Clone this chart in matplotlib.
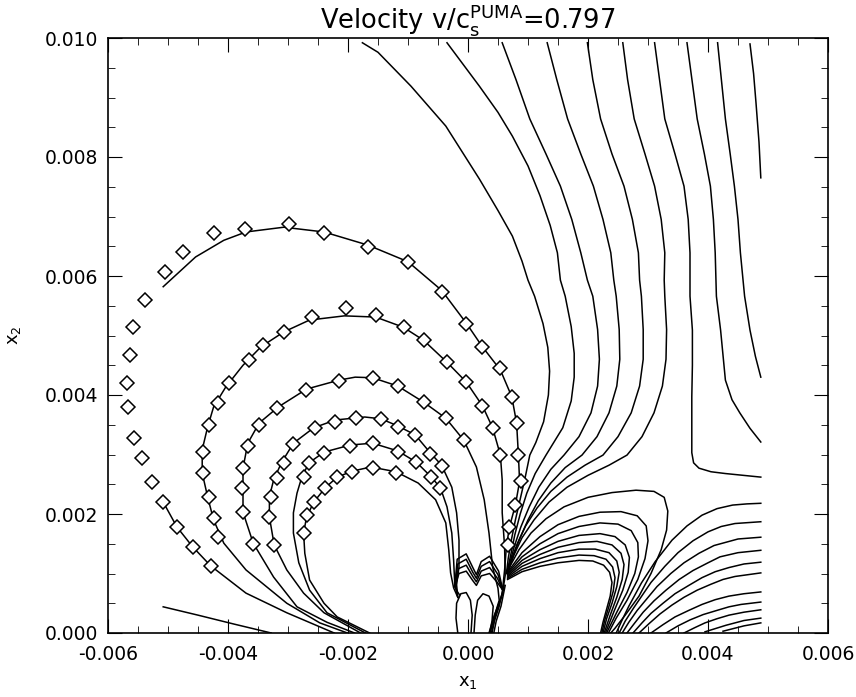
import numpy as np
import matplotlib.pyplot as plt
from matplotlib.ticker import MultipleLocator, FormatStrFormatter

S = 1e-3  # all values below are in units of 0.001

# ---- left family of contour lines (x1, x2) ----
arc1_top = [(-5.08, 5.82), (-4.54, 6.32), (-4.07, 6.60), (-3.70, 6.74), (-3.07, 6.82),
            (-2.40, 6.74), (-1.67, 6.52), (-1.00, 6.24), (-0.44, 5.76), (-0.03, 5.21),
            (0.24, 4.81), (0.54, 4.42), (0.73, 3.97), (0.81, 3.53), (0.84, 2.99),
            (0.86, 2.55), (0.79, 2.15), (0.69, 1.78), (0.64, 1.45), (0.61, 1.06),
            (0.57, 0.67), (0.47, 0.35), (0.39, 0.0)]
arc1_low = [(-5.08, 2.20), (-4.85, 1.78), (-4.59, 1.45), (-4.29, 1.13), (-3.70, 0.67),
            (-3.02, 0.34), (-2.23, 0.0)]
arc2 = [(-2.01, 0.0), (-2.47, 0.17), (-3.02, 0.50), (-3.70, 1.06), (-4.07, 1.51),
        (-4.24, 1.90), (-4.34, 2.29), (-4.43, 2.69), (-4.43, 3.08), (-4.34, 3.46),
        (-4.24, 3.80), (-4.04, 4.13), (-3.75, 4.50), (-3.45, 4.81), (-3.07, 5.06),
        (-2.64, 5.26), (-2.06, 5.33), (-1.54, 5.31), (-1.08, 5.14), (-0.74, 4.92),
        (-0.35, 4.55), (-0.03, 4.22), (0.24, 3.82), (0.41, 3.45), (0.54, 2.99),
        (0.57, 2.57), (0.57, 2.02), (0.61, 1.45), (0.62, 0.97), (0.57, 0.64),
        (0.44, 0.30), (0.35, 0.0)]
arc3 = [(-1.89, 0.0), (-2.35, 0.18), (-2.85, 0.44), (-3.24, 0.94), (-3.58, 1.51),
        (-3.75, 2.03), (-3.75, 2.44), (-3.75, 2.77), (-3.67, 3.19), (-3.48, 3.53),
        (-3.16, 3.80), (-2.69, 4.10), (-2.15, 4.25), (-1.88, 4.30), (-1.59, 4.29),
        (-1.17, 4.15), (-0.74, 3.88), (-0.37, 3.61), (-0.07, 3.24), (0.14, 2.79),
        (0.27, 2.24), (0.35, 1.68), (0.41, 1.11), (0.50, 0.75), (0.52, 0.55),
        (0.43, 0.25), (0.37, 0.0)]
arc4 = [(-1.79, 0.0), (-2.40, 0.34), (-2.74, 0.67), (-3.02, 1.06), (-3.23, 1.48),
        (-3.31, 1.95), (-3.31, 2.29), (-3.24, 2.57), (-3.11, 2.86), (-2.91, 3.19),
        (-2.57, 3.45), (-2.21, 3.58), (-1.72, 3.63), (-1.45, 3.60), (-1.17, 3.48),
        (-0.88, 3.33), (-0.63, 3.03), (-0.44, 2.82), (-0.27, 2.45), (-0.19, 2.02),
        (-0.15, 1.56), (-0.15, 1.11), (-0.19, 0.81), (-0.17, 0.60)]
arc5 = [(-1.71, 0.0), (-2.35, 0.34), (-2.64, 0.72), (-2.82, 1.18), (-2.91, 1.68),
        (-2.91, 2.02), (-2.85, 2.35), (-2.77, 2.62), (-2.65, 2.86), (-2.40, 3.04),
        (-1.96, 3.16), (-1.59, 3.19), (-1.17, 3.06), (-0.86, 2.87), (-0.61, 2.62),
        (-0.46, 2.44), (-0.35, 2.12), (-0.27, 1.68), (-0.24, 1.23), (-0.22, 0.81),
        (-0.17, 0.60)]
arc6 = [(-1.64, 0.0), (-2.18, 0.27), (-2.40, 0.50), (-2.64, 0.89), (-2.72, 1.34),
        (-2.74, 1.68), (-2.69, 1.95), (-2.57, 2.20), (-2.38, 2.44), (-2.18, 2.62),
        (-1.93, 2.72), (-1.62, 2.79), (-1.20, 2.71), (-0.83, 2.52), (-0.54, 2.24),
        (-0.37, 1.85), (-0.32, 1.39), (-0.29, 1.01), (-0.24, 0.76), (-0.17, 0.60)]
short_line = [(-5.08, 0.44), (-4.50, 0.30), (-3.90, 0.15), (-3.28, 0.0)]

# ---- lines running up to the top edge ----
r0 = [(-1.76, 9.92), (-1.50, 9.76), (-0.95, 9.19), (-0.37, 8.52), (0.19, 7.63),
      (0.50, 7.10), (0.74, 6.67), (0.90, 6.25), (1.00, 5.93), (1.11, 5.66),
      (1.25, 5.20), (1.33, 4.80), (1.36, 4.40), (1.34, 4.00), (1.26, 3.55),
      (1.13, 3.20), (1.03, 2.99), (0.95, 2.60), (0.87, 2.25), (0.79, 1.90),
      (0.72, 1.55), (0.67, 1.25), (0.64, 1.00)]
r1 = [(-0.35, 9.92), (0.19, 9.19), (0.50, 8.75), (0.74, 8.35), (1.00, 7.85),
      (1.20, 7.35), (1.37, 6.85), (1.49, 6.39), (1.54, 5.93), (1.62, 5.66),
      (1.72, 5.15), (1.77, 4.70), (1.77, 4.30), (1.72, 3.90), (1.58, 3.45),
      (1.30, 2.99), (1.12, 2.68), (0.98, 2.35), (0.87, 2.00), (0.78, 1.65),
      (0.71, 1.30), (0.65, 1.02)]
r2 = [(0.57, 9.92), (0.80, 9.30), (1.03, 8.64), (1.30, 8.05), (1.54, 7.51),
      (1.73, 6.95), (1.88, 6.39), (1.99, 5.93), (2.08, 5.66), (2.16, 5.10),
      (2.19, 4.60), (2.16, 4.15), (2.05, 3.70), (1.85, 3.30), (1.60, 2.99),
      (1.38, 2.75), (1.18, 2.45), (1.02, 2.12), (0.88, 1.78), (0.77, 1.45),
      (0.69, 1.15), (0.65, 1.00)]
r3 = [(1.32, 9.92), (1.48, 9.30), (1.66, 8.64), (1.88, 8.05), (2.09, 7.51),
      (2.25, 6.95), (2.38, 6.39), (2.43, 5.93), (2.47, 5.66), (2.52, 5.10),
      (2.53, 4.60), (2.48, 4.15), (2.35, 3.70), (2.15, 3.30), (1.90, 2.99),
      (1.62, 2.78), (1.38, 2.52), (1.17, 2.22), (1.00, 1.90), (0.86, 1.58),
      (0.75, 1.28), (0.67, 1.04)]
r4 = [(1.99, 9.92), (2.08, 9.30), (2.21, 8.64), (2.40, 8.05), (2.60, 7.51),
      (2.74, 6.95), (2.84, 6.39), (2.86, 5.93), (2.89, 5.66), (2.92, 5.10),
      (2.92, 4.60), (2.86, 4.15), (2.72, 3.70), (2.50, 3.30), (2.25, 2.99),
      (1.95, 2.82), (1.65, 2.62), (1.38, 2.38), (1.15, 2.10), (0.96, 1.80),
      (0.82, 1.50), (0.72, 1.22), (0.66, 1.02)]
r5 = [(2.58, 9.92), (2.66, 9.30), (2.77, 8.64), (2.95, 8.05), (3.11, 7.51),
      (3.22, 6.95), (3.28, 6.39), (3.27, 5.93), (3.28, 5.66), (3.31, 5.10),
      (3.30, 4.60), (3.24, 4.15), (3.10, 3.70), (2.90, 3.30), (2.65, 2.99),
      (2.35, 2.82), (2.00, 2.65), (1.65, 2.45), (1.35, 2.20), (1.10, 1.90),
      (0.90, 1.60), (0.76, 1.30), (0.68, 1.08)]
r6 = [(3.11, 9.92), (3.28, 8.64), (3.45, 8.05), (3.60, 7.51), (3.67, 6.95),
      (3.70, 6.39), (3.70, 5.66), (3.74, 5.09), (3.74, 4.50), (3.73, 3.97),
      (3.73, 3.03), (3.76, 2.86), (3.85, 2.77), (4.05, 2.71), (4.29, 2.68),
      (4.88, 2.62)]
r7 = [(3.65, 9.92), (3.82, 8.64), (3.94, 8.05), (4.04, 7.51), (4.09, 6.95),
      (4.12, 6.39), (4.14, 5.66), (4.21, 5.09), (4.29, 4.25), (4.40, 3.92),
      (4.53, 3.70), (4.70, 3.44), (4.88, 3.21)]
r8 = [(4.16, 9.92), (4.29, 8.64), (4.37, 8.05), (4.44, 7.51), (4.50, 6.95),
      (4.54, 6.39), (4.61, 5.66), (4.70, 5.09), (4.79, 4.65), (4.88, 4.30)]
r9 = [(4.70, 9.90), (4.76, 9.40), (4.80, 8.91), (4.85, 8.25), (4.88, 7.65)]

# ---- lobe loops between the cusp and the bottom edge ----
lobe0 = [(0.66, 1.05), (0.85, 1.40), (1.05, 1.68), (1.30, 1.92), (1.60, 2.12),
         (2.00, 2.28), (2.40, 2.36), (2.80, 2.40), (3.10, 2.38), (3.27, 2.28),
         (3.33, 2.05), (3.31, 1.73), (3.22, 1.40), (3.05, 1.00), (2.85, 0.62),
         (2.62, 0.30), (2.45, 0.08), (2.38, 0.0)]
lobe1 = [(0.66, 1.02), (0.90, 1.35), (1.20, 1.62), (1.50, 1.82), (1.85, 1.96),
         (2.20, 2.03), (2.55, 2.04), (2.82, 1.97), (2.97, 1.80), (3.00, 1.55),
         (2.95, 1.25), (2.83, 0.90), (2.65, 0.55), (2.47, 0.25), (2.34, 0.0)]
lobe2 = [(0.66, 1.00), (0.90, 1.28), (1.20, 1.50), (1.50, 1.67), (1.85, 1.79),
         (2.20, 1.85), (2.50, 1.83), (2.72, 1.72), (2.83, 1.52), (2.84, 1.28),
         (2.78, 1.00), (2.65, 0.68), (2.48, 0.35), (2.31, 0.0)]
lobe3 = [(0.66, 0.98), (0.90, 1.22), (1.20, 1.40), (1.50, 1.54), (1.85, 1.64),
         (2.20, 1.67), (2.45, 1.62), (2.62, 1.48), (2.69, 1.27), (2.67, 1.02),
         (2.58, 0.72), (2.44, 0.38), (2.29, 0.0)]
lobe4 = [(0.66, 0.96), (0.90, 1.17), (1.20, 1.32), (1.50, 1.44), (1.85, 1.52),
         (2.15, 1.54), (2.40, 1.48), (2.55, 1.34), (2.60, 1.15), (2.57, 0.90),
         (2.48, 0.60), (2.37, 0.30), (2.27, 0.0)]
lobe5 = [(0.66, 0.94), (0.90, 1.12), (1.20, 1.25), (1.50, 1.35), (1.85, 1.41),
         (2.12, 1.41), (2.35, 1.35), (2.48, 1.21), (2.52, 1.02), (2.48, 0.78),
         (2.40, 0.50), (2.31, 0.24), (2.25, 0.0)]
lobe6 = [(0.66, 0.92), (0.90, 1.07), (1.20, 1.18), (1.50, 1.26), (1.85, 1.31),
         (2.10, 1.30), (2.30, 1.24), (2.41, 1.11), (2.45, 0.93), (2.42, 0.70),
         (2.35, 0.45), (2.28, 0.22), (2.23, 0.0)]
lobe7 = [(0.66, 0.90), (0.90, 1.03), (1.20, 1.12), (1.50, 1.18), (1.85, 1.22),
         (2.08, 1.21), (2.26, 1.14), (2.36, 1.02), (2.40, 0.85), (2.37, 0.62),
         (2.31, 0.40), (2.25, 0.18), (2.21, 0.0)]

# ---- arcs from the bottom edge to the right edge ----
side0 = [(2.47, 0.0), (2.56, 0.20), (2.68, 0.45), (2.89, 0.84), (3.12, 1.20), (3.40, 1.56),
         (3.65, 1.80), (3.90, 1.98), (4.15, 2.09), (4.41, 2.15), (4.65, 2.17), (4.88, 2.18)]
side1 = [(2.52, 0.0), (2.62, 0.20), (2.76, 0.42), (3.05, 0.85), (3.28, 1.12), (3.50, 1.35),
         (3.75, 1.55), (4.00, 1.70), (4.22, 1.79), (4.45, 1.84), (4.88, 1.87)]
side2 = [(2.57, 0.0), (2.68, 0.18), (2.82, 0.38), (3.15, 0.78), (3.38, 1.00), (3.60, 1.18),
         (3.85, 1.34), (4.10, 1.47), (4.50, 1.58), (4.88, 1.61)]
side3 = [(2.65, 0.0), (2.78, 0.17), (2.92, 0.35), (3.10, 0.54), (3.30, 0.72), (3.52, 0.90),
         (3.75, 1.05), (4.00, 1.18), (4.20, 1.28), (4.50, 1.35), (4.88, 1.39)]
side4 = [(2.75, 0.0), (2.90, 0.17), (3.05, 0.33), (3.25, 0.50), (3.45, 0.66), (3.68, 0.80),
         (3.90, 0.93), (4.12, 1.03), (4.35, 1.10), (4.60, 1.16), (4.88, 1.19)]
side5 = [(2.85, 0.0), (3.02, 0.16), (3.20, 0.32), (3.40, 0.47), (3.60, 0.60), (3.82, 0.72),
         (4.05, 0.82), (4.25, 0.90), (4.45, 0.95), (4.88, 1.01)]
side6 = [(3.05, 0.0), (3.25, 0.14), (3.45, 0.27), (3.68, 0.38), (3.90, 0.48), (4.12, 0.56),
         (4.35, 0.62), (4.60, 0.66), (4.88, 0.69)]
side7 = [(3.30, 0.0), (3.50, 0.12), (3.70, 0.22), (3.92, 0.31), (4.15, 0.38), (4.35, 0.44),
         (4.55, 0.48), (4.88, 0.52)]
side8 = [(3.60, 0.0), (3.78, 0.09), (3.95, 0.17), (4.15, 0.24), (4.35, 0.30), (4.60, 0.35),
         (4.88, 0.39)]
side9 = [(3.95, 0.02), (4.30, 0.13), (4.60, 0.21), (4.88, 0.25)]
side10 = [(4.25, 0.03), (4.60, 0.12), (4.88, 0.17)]

# ---- small structure next to the origin ----
oval_a = [(-0.17, 0.0), (-0.20, 0.25), (-0.19, 0.50), (-0.12, 0.66), (-0.03, 0.68),
          (0.04, 0.55), (0.07, 0.30), (0.05, 0.0)]
oval_b = [(0.10, 0.0), (0.12, 0.30), (0.16, 0.55), (0.25, 0.66), (0.35, 0.62),
          (0.42, 0.45), (0.40, 0.20), (0.36, 0.0)]
arch0 = [(-0.22, 0.78), (-0.15, 1.00), (-0.03, 1.04), (0.08, 0.88), (0.14, 0.80),
         (0.22, 0.96), (0.36, 1.00), (0.48, 0.86), (0.58, 0.72)]
arch1 = [(-0.22, 0.78), (-0.16, 1.08), (-0.03, 1.14), (0.08, 0.95), (0.14, 0.86),
         (0.22, 1.04), (0.36, 1.10), (0.49, 0.92), (0.58, 0.72)]
arch2 = [(-0.22, 0.78), (-0.17, 1.16), (-0.03, 1.24), (0.08, 1.02), (0.14, 0.92),
         (0.22, 1.12), (0.36, 1.20), (0.50, 0.98), (0.58, 0.72)]
arch3 = [(-0.22, 0.78), (-0.18, 1.24), (-0.03, 1.33), (0.08, 1.10), (0.14, 0.98),
         (0.22, 1.20), (0.36, 1.29), (0.51, 1.04), (0.58, 0.72)]
funnel0 = [(0.60, 0.80), (0.52, 0.45), (0.44, 0.20), (0.40, 0.0)]
funnel1 = [(0.62, 0.80), (0.55, 0.45), (0.47, 0.20), (0.43, 0.0)]
funnel2 = [(-0.22, 0.80), (-0.18, 0.70), (-0.14, 0.64)]

# ---- diamonds ----
dia1 = [(-5.39, 5.60), (-5.59, 5.14), (-5.63, 4.67), (-5.68, 4.20), (-5.66, 3.80),
        (-5.57, 3.28), (-5.44, 2.94), (-5.27, 2.54), (-5.08, 2.20), (-4.85, 1.78),
        (-4.59, 1.45), (-4.29, 1.13), (-5.05, 6.07), (-4.75, 6.40), (-4.24, 6.72),
        (-3.72, 6.79), (-2.99, 6.87), (-2.40, 6.72), (-1.66, 6.49), (-1.00, 6.24),
        (-0.44, 5.73), (-0.03, 5.19), (0.24, 4.81), (0.54, 4.45), (0.73, 3.97),
        (0.81, 3.53), (0.84, 2.99), (0.88, 2.55), (0.79, 2.15), (0.69, 1.78), (0.66, 1.48)]
dia2 = [(-2.04, 5.46), (-1.54, 5.34), (-2.60, 5.31), (-3.06, 5.06), (-3.41, 4.84),
        (-3.65, 4.59), (-3.99, 4.20), (-4.17, 3.87), (-4.32, 3.50), (-4.41, 3.04),
        (-4.41, 2.69), (-4.32, 2.29), (-4.24, 1.93), (-4.16, 1.61), (-1.06, 5.14),
        (-0.74, 4.92), (-0.35, 4.55), (-0.03, 4.22), (0.24, 3.82), (0.41, 3.45), (0.54, 2.99)]
dia3 = [(-2.15, 4.24), (-1.59, 4.29), (-2.70, 4.08), (-3.18, 3.78), (-3.48, 3.50),
        (-3.67, 3.14), (-3.75, 2.77), (-3.77, 2.44), (-3.75, 2.03), (-3.58, 1.50),
        (-1.17, 4.15), (-0.74, 3.88), (-0.37, 3.61), (-0.07, 3.24)]
dia4 = [(-2.21, 3.55), (-1.86, 3.61), (-1.45, 3.60), (-1.17, 3.46), (-0.88, 3.33),
        (-0.63, 3.01), (-0.44, 2.81), (-2.55, 3.45), (-2.91, 3.18), (-3.07, 2.86),
        (-3.19, 2.61), (-3.28, 2.29), (-3.31, 1.95), (-3.23, 1.48)]
dia5 = [(-1.96, 3.14), (-1.59, 3.19), (-2.40, 3.03), (-2.65, 2.86), (-2.74, 2.62),
        (-1.17, 3.04), (-0.86, 2.87), (-0.61, 2.62), (-0.46, 2.44)]
dia6 = [(-1.93, 2.71), (-1.59, 2.77), (-1.20, 2.69), (-2.18, 2.62), (-2.38, 2.44),
        (-2.57, 2.20), (-2.69, 1.98), (-2.74, 1.68)]

contours = [arc1_top, arc1_low, arc2, arc3, arc4, arc5, arc6, short_line,
            r0, r1, r2, r3, r4, r5, r6, r7, r8, r9,
            lobe0, lobe1, lobe2, lobe3, lobe4, lobe5, lobe6, lobe7,
            side0, side1, side2, side3, side4, side5, side6, side7, side8, side9, side10,
            oval_a, oval_b, arch0, arch1, arch2, arch3, funnel0, funnel1, funnel2]
diamonds = [dia1, dia2, dia3, dia4, dia5, dia6]

fig = plt.figure(figsize=(8.56, 6.97), dpi=100)
ax = fig.add_axes([108 / 856, 64 / 697, 720 / 856, 595 / 697])

for c in contours:
    a = np.array(c) * S
    ax.plot(a[:, 0], a[:, 1], color='k', lw=1.1, solid_joinstyle='round')

for d in diamonds:
    a = np.array(d) * S
    ax.plot(a[:, 0], a[:, 1], ls='none', marker='D', ms=7.5, mfc='white',
            mec='k', mew=1.1)

ax.set_xlim(-0.006, 0.006)
ax.set_ylim(0.0, 0.010)
ax.xaxis.set_major_locator(MultipleLocator(0.002))
ax.xaxis.set_minor_locator(MultipleLocator(0.0005))
ax.yaxis.set_major_locator(MultipleLocator(0.002))
ax.yaxis.set_minor_locator(MultipleLocator(0.0005))
ax.xaxis.set_major_formatter(FormatStrFormatter('%.3f'))
ax.yaxis.set_major_formatter(FormatStrFormatter('%.3f'))
ax.tick_params(which='both', direction='in', top=True, right=True, labelsize=13.5)
ax.tick_params(which='major', length=10)
ax.tick_params(which='minor', length=5)
ax.tick_params(axis='x', which='major', pad=9)
ax.tick_params(axis='y', which='major', pad=7)
for s in ax.spines.values():
    s.set_linewidth(1.2)

ax.set_xlabel('x$_1$', fontsize=13, labelpad=6)
ax.set_ylabel('x$_2$', fontsize=13, labelpad=16)
ax.set_title('Velocity v/c$_{\\rm s}^{\\rm PUMA}$=0.797', fontsize=18.5, pad=4)

fig.savefig('out.png', dpi=100)
